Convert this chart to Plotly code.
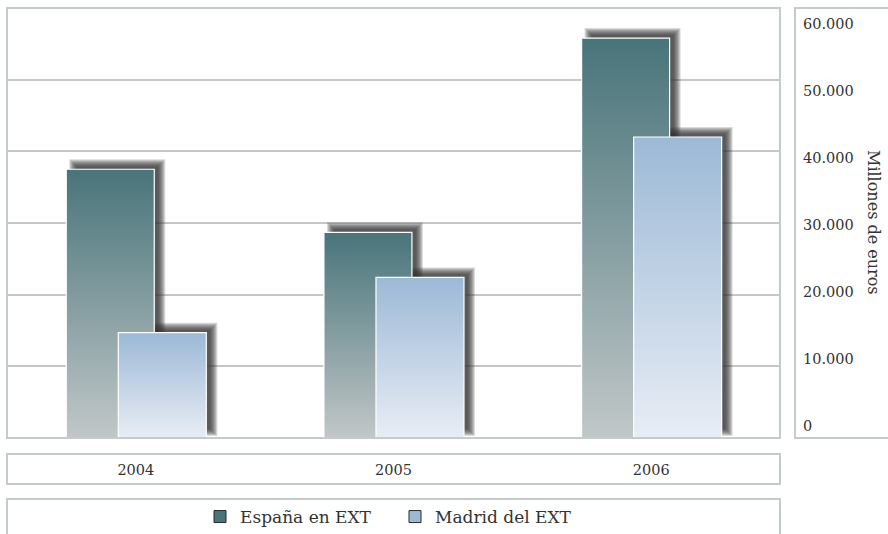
import plotly.graph_objects as go

# ---- data ----
years = ["2004", "2005", "2006"]
espana = [37500, 28700, 55800]
madrid = [14700, 22400, 42000]
series_names = ["España en EXT", "Madrid del EXT"]
y_tick_vals = [0, 10000, 20000, 30000, 40000, 50000, 60000]
y_tick_text = ["0", "10.000", "20.000", "30.000", "40.000", "50.000", "60.000"]
y_title = "Millones de euros"

# ---- geometry / style ----
W, H = 888, 534
ML, MR, MT, MB = 7, 0, 8, 96
PW, PH = W - ML - MR, H - MT - MB
XDOM = 773 / PW
PX_X = 3.0 / 773          # x data units per px
PX_Y = 60000 / 430        # y data units per px
BAR_W = 88 * PX_X
ESP_OFF = -0.27
MAD_OFF = -0.068

FONT = "DejaVu Serif"
TXT = "#333333"
BORDER = "#c3ccc8"
ESP_TOP, ESP_BOT = "#48747a", "#c1c7c8"
MAD_TOP, MAD_BOT = "#9cb9d6", "#e8edf5"

fig = go.Figure()


def rect(x0, x1, y0, y1):
    return [x0, x1, x1, x0, x0], [y0, y0, y1, y1, y0]


# shadows (soft, offset up-right)
for off, vals in ((ESP_OFF, espana), (MAD_OFF, madrid)):
    for i, v in enumerate(vals):
        x0 = i + off + 7 * PX_X
        x1 = x0 + BAR_W
        y0 = 6 * PX_Y
        y1 = v + 6 * PX_Y
        for k in (-3, -2, -1, 0, 1, 2, 3, 4):
            xs, ys = rect(x0 - k * PX_X, x1 + k * PX_X, y0 - k * PX_Y, y1 + k * PX_Y)
            fig.add_trace(go.Scatter(
                x=xs, y=ys, fill="toself", mode="lines",
                line=dict(width=0), fillcolor="rgba(50,50,50,0.18)",
                showlegend=False, hoverinfo="skip"))

# bars
for off, vals, top, bot in ((ESP_OFF, espana, ESP_TOP, ESP_BOT), (MAD_OFF, madrid, MAD_TOP, MAD_BOT)):
    for i, v in enumerate(vals):
        xs, ys = rect(i + off, i + off + BAR_W, 0, v)
        fig.add_trace(go.Scatter(
            x=xs, y=ys, fill="toself", mode="lines",
            line=dict(width=1.2, color="white"),
            fillgradient=dict(type="vertical", colorscale=[[0, bot], [1, top]], start=0, stop=v),
            showlegend=False, hoverinfo="skip"))

# legend entries
for name, col in zip(series_names, (ESP_TOP, MAD_TOP)):
    fig.add_trace(go.Bar(x=[None], y=[None], name=name,
                         marker=dict(color=col, line=dict(color="#2a2a2a", width=1))))

# invisible trace on y2 to get the tick axis drawn
fig.add_trace(go.Scatter(x=[None], y=[None], yaxis="y2", showlegend=False, hoverinfo="skip"))

shapes = [
    dict(type="rect", xref="paper", yref="paper", x0=0, x1=XDOM, y0=0, y1=1,
         line=dict(color=BORDER, width=2), layer="above"),
    dict(type="rect", xref="paper", yref="paper", x0=(795 - ML) / PW, x1=1.05, y0=0, y1=1,
         line=dict(color=BORDER, width=2)),
    dict(type="rect", xref="paper", yref="paper", x0=0, x1=XDOM,
         y0=(438 - 484) / PH, y1=(438 - 454) / PH, line=dict(color=BORDER, width=2)),
    dict(type="rect", xref="paper", yref="paper", x0=0, x1=XDOM,
         y0=-0.3, y1=(438 - 499) / PH, line=dict(color=BORDER, width=2)),
]

fig.update_layout(
    width=W, height=H,
    margin=dict(l=ML, r=MR, t=MT, b=MB, autoexpand=False),
    paper_bgcolor="white", plot_bgcolor="white",
    font=dict(family=FONT, size=15, color=TXT),
    barmode="overlay",
    xaxis=dict(domain=[0, XDOM], range=[-0.5, 2.5], tickvals=[0, 1, 2], ticktext=years,
               showgrid=False, zeroline=False, showline=False, ticks="",
               ticklabelstandoff=21, tickfont=dict(size=14.5, family=FONT, color=TXT)),
    yaxis=dict(range=[0, 60000], dtick=10000, showgrid=True, gridcolor="#c6c6c6", gridwidth=1.5,
               zeroline=False, showticklabels=False, ticks=""),
    yaxis2=dict(overlaying="y", anchor="free", position=(795 - ML) / PW, side="right",
                range=[-12 * 60000 / 402.5, 60000 + 15.5 * 60000 / 402.5],
                tickvals=y_tick_vals, ticktext=y_tick_text, showgrid=False, zeroline=False,
                showline=False, ticks="", ticklabelstandoff=7,
                tickfont=dict(size=14.5, family=FONT, color=TXT)),
    legend=dict(orientation="h", x=(395 - ML) / PW, xanchor="center",
                y=(438 - 517) / PH, yanchor="middle", font=dict(size=17, family=FONT, color=TXT),
                bgcolor="rgba(0,0,0,0)", entrywidth=150, entrywidthmode="pixels"),
    shapes=shapes,
    annotations=[dict(text=y_title, xref="paper", yref="paper", x=(873 - ML) / PW,
                      y=(438 - 222) / PH, xanchor="center", yanchor="middle",
                      showarrow=False, textangle=90,
                      font=dict(size=16, family=FONT, color=TXT))],
)

fig.write_html("out.html", post_script="document.body.style.margin='0';",
               config={"displayModeBar": False})
